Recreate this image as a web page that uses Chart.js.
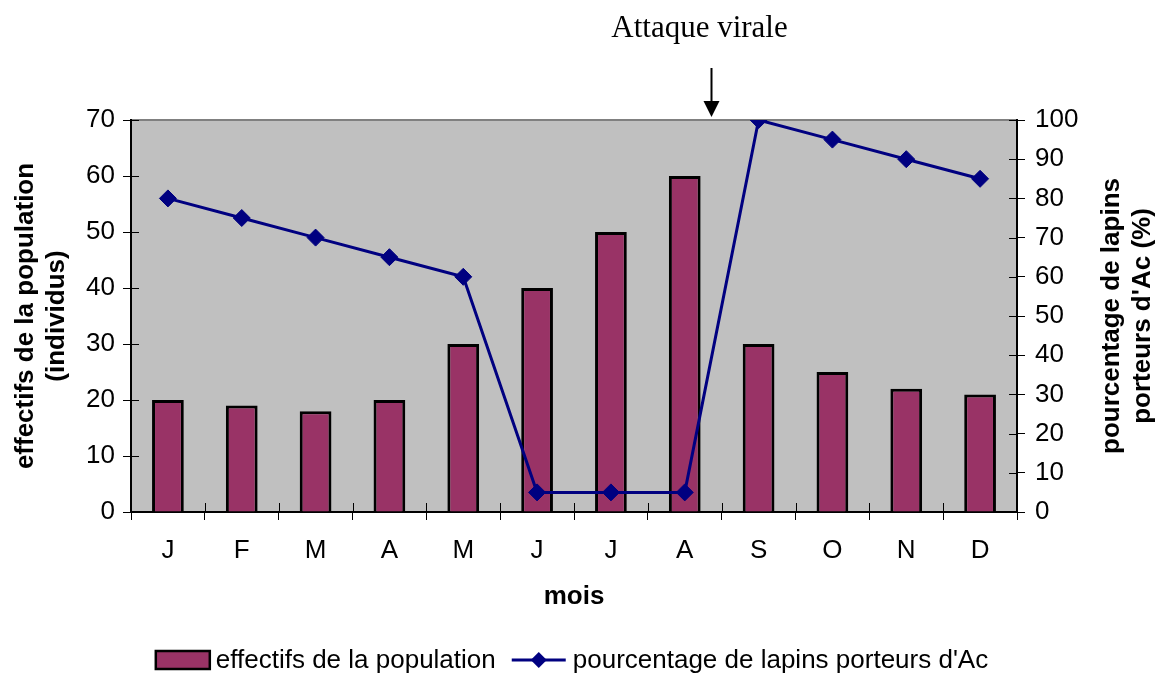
<!DOCTYPE html>
<html lang="fr">
<head>
<meta charset="utf-8">
<script src="https://cdn.jsdelivr.net/npm/chart.js@4.4.1/dist/chart.umd.min.js"></script>
<style>
  html, body { margin: 0; padding: 0; background: #fff; }
  canvas { display: block; }
</style>
</head>
<body>
<canvas id="graphique" width="1156" height="673"></canvas>
<script>
const mois = ["J", "F", "M", "A", "M", "J", "J", "A", "S", "O", "N", "D"];
const effectifs = [20, 19, 18, 20, 30, 40, 50, 60, 30, 25, 22, 21];
const porteurs = [80, 75, 70, 65, 60, 5, 5, 5, 100, 95, 90, 85];
const titreGauche = ["effectifs de la population", "(individus)"];
const titreDroite = ["pourcentage de lapins", "porteurs d'Ac (%)"];
const annotation = "Attaque virale";

const arial = "Arial, 'Liberation Sans', sans-serif";
const times = "'Times New Roman', 'Liberation Serif', serif";

// fond gris de la zone de tracé
const fond = {
  id: "fond",
  beforeDraw(chart) {
    const { ctx, chartArea: a } = chart;
    ctx.save();
    ctx.fillStyle = "#c0c0c0";
    ctx.fillRect(a.left, a.top, a.right - a.left, a.bottom - a.top);
    ctx.strokeStyle = "#808080";
    ctx.lineWidth = 2;
    ctx.beginPath();
    ctx.moveTo(a.left, a.top);
    ctx.lineTo(a.right, a.top);
    ctx.stroke();
    ctx.restore();
  },
};

// petits traits de graduation vers l'intérieur + titre de droite + légende + flèche
const decor = {
  id: "decor",
  afterDraw(chart) {
    const { ctx, chartArea: a } = chart;
    const x = chart.scales.x;
    const y = chart.scales.y;
    const y1 = chart.scales.y1;
    ctx.save();
    ctx.strokeStyle = "#000";
    ctx.lineWidth = 1;
    ctx.beginPath();
    y.ticks.forEach((t, i) => {
      const py = Math.round(y.getPixelForTick(i)) + 0.5;
      ctx.moveTo(a.left, py);
      ctx.lineTo(a.left + 8, py);
    });
    y1.ticks.forEach((t, i) => {
      const py = Math.round(y1.getPixelForTick(i)) + 0.5;
      ctx.moveTo(a.right - 8, py);
      ctx.lineTo(a.right, py);
    });
    for (let i = 1; i < mois.length; i++) {
      const px = Math.round((x.getPixelForValue(i - 1) + x.getPixelForValue(i)) / 2) + 0.5;
      ctx.moveTo(px, a.bottom - 9);
      ctx.lineTo(px, a.bottom);
    }
    ctx.stroke();

    // titre de l'axe de droite, lu de bas en haut
    ctx.fillStyle = "#000";
    ctx.font = `bold 26px ${arial}`;
    ctx.textAlign = "center";
    ctx.textBaseline = "middle";
    const cy = (a.top + a.bottom) / 2;
    titreDroite.forEach((ligne, i) => {
      ctx.save();
      ctx.translate(chart.width - 44 + i * 31, cy);
      ctx.rotate(-Math.PI / 2);
      ctx.fillText(ligne, 0, 0);
      ctx.restore();
    });

    // annotation "Attaque virale"
    const pas = x.getPixelForValue(8) - x.getPixelForValue(7);
    const fx = Math.round(x.getPixelForValue(7) + 0.35 * pas) + 0.5;
    ctx.font = `31px ${times}`;
    ctx.textBaseline = "alphabetic";
    ctx.fillText(annotation, x.getPixelForValue(7) + 0.2 * pas, 37);
    ctx.lineWidth = 2;
    ctx.beginPath();
    ctx.moveTo(fx, 68);
    ctx.lineTo(fx, 103);
    ctx.stroke();
    ctx.beginPath();
    ctx.moveTo(fx - 8, 101);
    ctx.lineTo(fx + 8, 101);
    ctx.lineTo(fx, a.top - 3);
    ctx.closePath();
    ctx.fill();

    // légende : barres d'abord, puis la courbe
    const barres = chart.data.datasets.find((d) => d.type === "bar");
    const courbe = chart.data.datasets.find((d) => d.type === "line");
    ctx.font = `26px ${arial}`;
    ctx.textAlign = "left";
    ctx.textBaseline = "middle";
    const w1 = ctx.measureText(barres.label).width;
    const w2 = ctx.measureText(courbe.label).width;
    const total = 54 + 6 + w1 + 16 + 54 + 7 + w2;
    let lx = (chart.width - total) / 2 - 6;
    const ly = 660;
    ctx.fillStyle = barres.backgroundColor;
    ctx.fillRect(lx, ly - 9, 54, 18);
    ctx.strokeStyle = "#000";
    ctx.lineWidth = 2.5;
    ctx.strokeRect(lx, ly - 9, 54, 18);
    lx += 60;
    ctx.fillStyle = "#000";
    ctx.fillText(barres.label, lx, ly + 1);
    lx += w1 + 16;
    ctx.strokeStyle = courbe.borderColor;
    ctx.lineWidth = 3;
    ctx.beginPath();
    ctx.moveTo(lx, ly);
    ctx.lineTo(lx + 54, ly);
    ctx.stroke();
    ctx.fillStyle = courbe.borderColor;
    ctx.beginPath();
    ctx.moveTo(lx + 27, ly - 8);
    ctx.lineTo(lx + 35, ly);
    ctx.lineTo(lx + 27, ly + 8);
    ctx.lineTo(lx + 19, ly);
    ctx.closePath();
    ctx.fill();
    lx += 61;
    ctx.fillStyle = "#000";
    ctx.fillText(courbe.label, lx, ly + 1);
    ctx.restore();
  },
};

const graphique = new Chart(document.getElementById("graphique"), {
  data: {
    labels: mois,
    datasets: [
      {
        type: "line",
        label: "pourcentage de lapins porteurs d'Ac",
        data: porteurs,
        yAxisID: "y1",
        borderColor: "#000080",
        backgroundColor: "#000080",
        borderWidth: 3,
        pointStyle: "rectRot",
        pointRadius: 8.5,
        pointBorderWidth: 1,
        tension: 0,
        order: 0,
      },
      {
        type: "bar",
        label: "effectifs de la population",
        data: effectifs,
        yAxisID: "y",
        backgroundColor: "#993366",
        borderColor: "#000",
        borderWidth: 3,
        categoryPercentage: 1,
        barPercentage: 0.43,
        order: 1,
      },
    ],
  },
  options: {
    responsive: false,
    animation: false,
    layout: { padding: { top: 120, left: 0, right: 0, bottom: 0 } },
    plugins: {
      legend: { display: false },
      tooltip: { enabled: false },
    },
    scales: {
      x: {
        offset: true,
        grid: { offset: true, drawOnChartArea: false, tickLength: 8, color: "#000" },
        border: { color: "#000", width: 2 },
        ticks: { color: "#000", font: { family: arial, size: 26 }, padding: 15, maxRotation: 0, autoSkip: false },
        title: { display: true, text: "mois", color: "#000", font: { family: arial, size: 26, weight: "bold" }, padding: { bottom: 61 } },
        afterFit(scale) { scale.height = 161; },
      },
      y: {
        position: "left",
        min: 0,
        max: 70,
        ticks: { stepSize: 10, color: "#000", font: { family: arial, size: 26 }, padding: 8 },
        grid: { drawOnChartArea: false, tickLength: 8, color: "#000" },
        border: { color: "#000", width: 2 },
        title: { display: true, text: titreGauche, color: "#000", font: { family: arial, size: 26, weight: "bold", lineHeight: 1.2 }, padding: { top: 10 } },
        afterFit(scale) { scale.width = 131; },
      },
      y1: {
        position: "right",
        min: 0,
        max: 100,
        ticks: { stepSize: 10, color: "#000", font: { family: arial, size: 26 }, padding: 10 },
        grid: { drawOnChartArea: false, tickLength: 8, color: "#000" },
        border: { color: "#000", width: 2 },
        afterFit(scale) { scale.width = 139; },
      },
    },
  },
  plugins: [fond, decor],
});
</script>
</body>
</html>
